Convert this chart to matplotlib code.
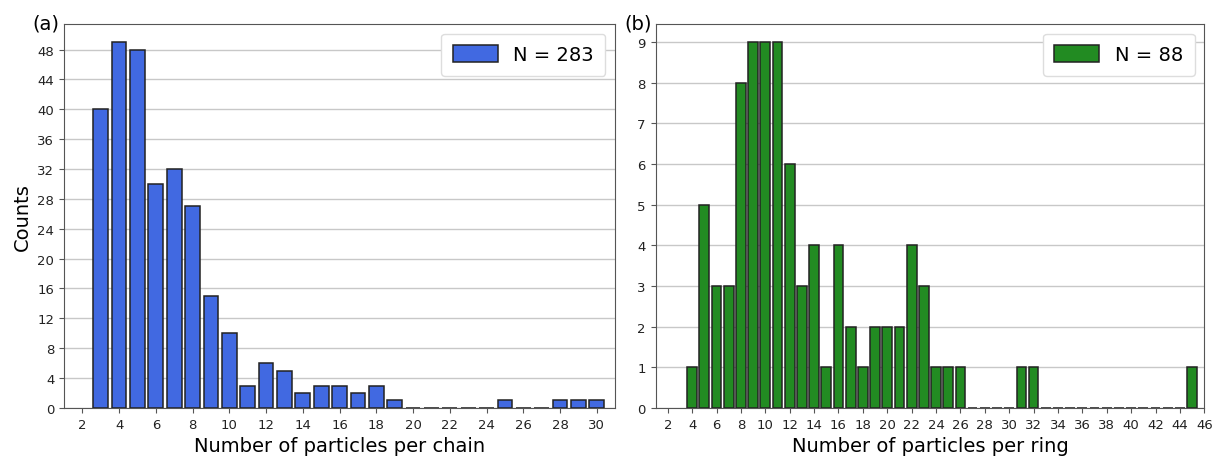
import numpy as np
import matplotlib
matplotlib.use("Agg")
import matplotlib.pyplot as plt

# chains per length (panel a)
chain_sizes = list(range(3, 31))
chain_counts = [40, 49, 48, 30, 32, 27, 15, 10, 3, 6, 5, 2, 3, 3, 2, 3, 1,
                0, 0, 0, 0, 0, 1, 0, 0, 1, 1, 1]

# rings per size (panel b)
ring_sizes = list(range(4, 46))
ring_counts = [1, 5, 3, 3, 8, 9, 9, 9, 6, 3, 4, 1, 4, 2, 1, 2, 2, 2, 4, 3, 1, 1, 1,
               0, 0, 0, 0, 1, 1, 0, 0, 0, 0, 0, 0, 0, 0, 0, 0, 0, 0, 1]

chain_label = "N = 283"
ring_label = "N = 88"

plt.rcParams['font.family'] = ['DejaVu Sans']
fig = plt.figure(figsize=(12.14, 4.6), dpi=100)
ax1 = fig.add_axes([0.0527, 0.111, 0.454, 0.835])
ax2 = fig.add_axes([0.540, 0.111, 0.452, 0.835])

edge = '#222222'
spine_c = '#555555'

ax1.bar(chain_sizes, chain_counts, width=0.8, color='royalblue', edgecolor=edge,
        linewidth=1.1, label=chain_label, zorder=3)
ax1.set_xlim(1, 31)
ax1.set_ylim(0, max(chain_counts) * 1.05)
ax1.set_xticks(np.arange(2, 31, 2))
ax1.set_yticks(np.arange(0, 49, 4))
ax1.set_xlabel("Number of particles per chain", fontsize=14)
ax1.set_ylabel("Counts", fontsize=14)

ax2.bar(ring_sizes, ring_counts, width=0.8, color='forestgreen', edgecolor=edge,
        linewidth=1.1, label=ring_label, zorder=3)
ax2.set_xlim(1, 46)
ax2.set_ylim(0, max(ring_counts) * 1.05)
ax2.set_xticks(np.arange(2, 47, 2))
ax2.set_yticks(np.arange(0, 10, 1))
ax2.set_xlabel("Number of particles per ring", fontsize=14)

for ax in (ax1, ax2):
    ax.grid(axis='y', color='#c8c8c8', linewidth=1.0, zorder=0)
    ax.set_axisbelow(True)
    ax.tick_params(labelsize=9.5, color=spine_c, labelcolor='#222222')
    for s in ax.spines.values():
        s.set_color(spine_c)
    leg = ax.legend(loc='upper right', fontsize=14, handlelength=2.3,
                    handleheight=0.9, handletextpad=0.8, borderpad=0.6,
                    fancybox=True, framealpha=1)
    leg.get_frame().set_edgecolor('#dddddd')

fig.text(0.027, 0.935, "(a)", fontsize=14)
fig.text(0.514, 0.935, "(b)", fontsize=14)

fig.savefig("out.png", dpi=100)
